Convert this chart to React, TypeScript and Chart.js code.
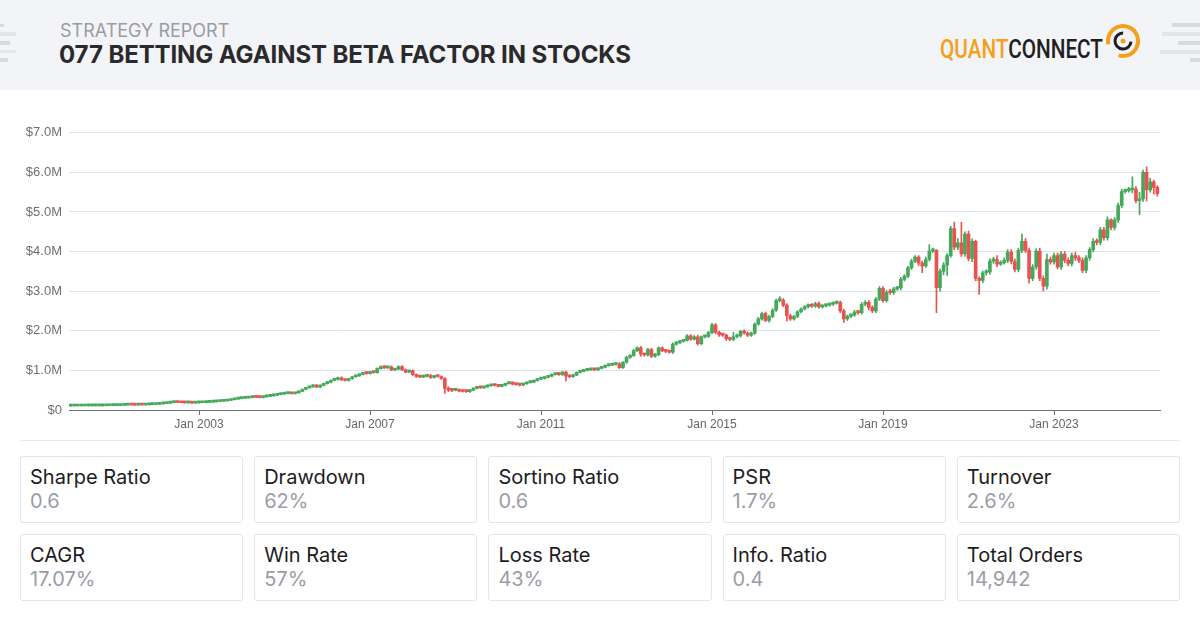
import React, { useEffect, useRef } from "react";
import { Chart, registerables } from "chart.js";

Chart.register(...registerables);

// Monthly equity candles, Jan 2000 .. Jun 2025, values in $K.
const firstOpenK = 99;

const closeK = [
  // 2000
  100, 101, 102, 102, 103, 104, 105, 105, 106, 107, 108, 109,
  // 2001
  111, 114, 118, 123, 129, 127, 125, 128, 126, 131, 135, 139,
  // 2002
  146, 154, 163, 173, 186, 196, 190, 184, 178, 181, 174, 178,
  // 2003
  182, 186, 192, 198, 206, 214, 220, 228, 240, 258, 274, 288,
  // 2004
  296, 304, 314, 325, 318, 312, 330, 345, 358, 372, 388, 402,
  // 2005
  415, 424, 410, 432, 470, 520, 560, 585, 630, 578, 620, 665,
  // 2006
  700, 748, 770, 815, 762, 745, 790, 840, 862, 900, 935, 918,
  // 2007
  955, 942, 1045, 1095, 1062, 1085, 1010, 1032, 1095, 1012, 955, 990,
  // 2008
  895, 845, 830, 850, 870, 820, 862, 845, 795, 545, 500, 495,
  // 2009
  508, 478, 468, 462, 500, 545, 572, 560, 585, 612, 632, 618,
  // 2010
  598, 622, 665, 690, 652, 640, 628, 662, 690, 705, 742, 778,
  // 2011
  795, 822, 852, 892, 918, 895, 955, 852, 840, 880, 950, 975,
  // 2012
  1000, 1012, 1025, 1015, 1052, 1080, 1120, 1135, 1150, 1165, 1068, 1205,
  // 2013
  1330, 1375, 1500, 1568, 1410, 1390, 1525, 1360, 1400, 1568, 1500, 1480,
  // 2014
  1460, 1665, 1700, 1735, 1760, 1875, 1790, 1850, 1675, 1845, 1860, 1955,
  // 2015
  2150, 1960, 1905, 1890, 1800, 1780, 1850, 1880, 1985, 1945, 1890, 1940,
  // 2016
  2170, 2300, 2435, 2260, 2360, 2520, 2760, 2775, 2650, 2380, 2300, 2360,
  // 2017
  2480, 2550, 2610, 2650, 2620, 2690, 2600, 2630, 2650, 2670, 2700, 2720,
  // 2018
  2500, 2300, 2370, 2400, 2470, 2460, 2670, 2720, 2590, 2500, 2800, 3075,
  // 2019
  2760, 2970, 2960, 3060, 3080, 3300, 3380, 3590, 3760, 3860, 3710, 3640,
  // 2020
  3800, 4010, 4030, 3090, 3500, 3660, 3900, 4580, 4110, 4220, 3940, 4440,
  // 2021
  3825, 4260, 3325, 3275, 3465, 3490, 3760, 3800, 3680, 3720, 3780, 3990,
  // 2022
  3750, 3550, 4030, 4260, 4030, 3325, 3610, 4010, 3325, 3130, 3800, 3740,
  // 2023
  3900, 3610, 3940, 3780, 3700, 3900, 3840, 3780, 3525, 3840, 4050, 4260,
  // 2024
  4230, 4550, 4350, 4800, 4610, 4800, 5165, 5515, 5540, 5560, 5580, 5285,
  // 2025
  5330, 6000, 5555, 5765, 5620, 5460,
];

// How far each month's high reaches above its body, $K.
const wickUpK = [
  1, 1, 1, 1, 1, 1, 1, 1, 1, 1, 1, 1,
  2, 2, 2, 3, 3, 2, 2, 3, 2, 3, 3, 3,
  4, 4, 5, 5, 5, 6, 5, 5, 4, 5, 6, 5,
  4, 5, 5, 5, 6, 6, 6, 7, 8, 8, 8, 8,
  8, 8, 8, 10, 12, 10, 8, 8, 10, 10, 10, 10,
  10, 12, 10, 10, 12, 12, 15, 15, 15, 20, 15, 15,
  15, 12, 15, 15, 20, 15, 15, 15, 15, 15, 15, 20,
  20, 20, 20, 20, 25, 20, 30, 20, 20, 25, 20, 15,
  25, 20, 15, 15, 15, 30, 15, 20, 20, 25, 40, 30,
  15, 15, 15, 15, 15, 15, 15, 15, 15, 15, 15, 15,
  15, 15, 15, 15, 20, 20, 25, 15, 15, 15, 15, 15,
  15, 15, 15, 20, 15, 20, 20, 30, 20, 20, 15, 15,
  15, 15, 15, 15, 20, 20, 20, 20, 20, 25, 30, 20,
  25, 25, 30, 30, 40, 25, 30, 35, 30, 25, 30, 25,
  25, 30, 25, 25, 25, 30, 30, 30, 40, 30, 25, 30,
  40, 35, 30, 25, 30, 30, 110, 40, 30, 40, 30, 30,
  30, 40, 40, 40, 30, 40, 40, 90, 40, 40, 40, 30,
  30, 30, 30, 30, 40, 30, 40, 30, 30, 30, 30, 30,
  30, 40, 30, 30, 50, 40, 40, 40, 40, 40, 40, 40,
  40, 50, 80, 40, 40, 50, 40, 40, 50, 40, 40, 50,
  60, 170, 60, 20, 60, 60, 50, 60, 165, 110, 520, 60,
  80, 60, 30, 40, 40, 50, 60, 60, 100, 50, 60, 60,
  60, 60, 60, 180, 70, 60, 60, 60, 70, 60, 140, 60,
  60, 60, 60, 60, 60, 60, 80, 60, 60, 60, 50, 60,
  60, 60, 60, 80, 30, 60, 60, 60, 40, 60, 310, 60,
  170, 60, 140, 85, 40, 50,
];

// How far each month's low reaches below its body, $K.
const wickDownK = [
  1, 1, 1, 1, 1, 1, 1, 1, 1, 1, 1, 1,
  2, 2, 2, 2, 2, 2, 2, 2, 2, 2, 2, 2,
  4, 4, 5, 5, 5, 6, 5, 5, 5, 5, 6, 5,
  5, 5, 5, 5, 5, 5, 5, 5, 5, 5, 5, 5,
  8, 8, 8, 8, 8, 8, 8, 8, 8, 8, 8, 8,
  10, 10, 10, 10, 10, 10, 10, 10, 10, 10, 10, 10,
  15, 15, 15, 15, 15, 15, 15, 15, 15, 15, 15, 15,
  15, 15, 15, 15, 15, 15, 15, 15, 15, 15, 15, 15,
  20, 20, 15, 15, 15, 20, 15, 15, 20, 125, 40, 30,
  15, 20, 15, 15, 15, 15, 15, 15, 15, 15, 15, 15,
  15, 15, 15, 15, 20, 15, 20, 15, 15, 15, 15, 15,
  15, 15, 15, 15, 15, 20, 20, 117, 30, 20, 15, 15,
  15, 15, 15, 15, 15, 15, 15, 15, 15, 15, 15, 15,
  25, 25, 25, 25, 50, 30, 30, 40, 30, 25, 30, 30,
  25, 30, 25, 25, 25, 25, 30, 25, 40, 30, 25, 30,
  30, 40, 45, 30, 40, 30, 30, 30, 40, 30, 40, 30,
  30, 30, 30, 30, 40, 30, 30, 30, 40, 130, 40, 30,
  30, 30, 30, 30, 30, 30, 30, 30, 30, 30, 30, 30,
  40, 90, 40, 40, 40, 40, 40, 40, 60, 40, 40, 40,
  40, 40, 40, 40, 40, 50, 40, 40, 40, 40, 60, 175,
  40, 40, 40, 630, 90, 80, 260, 50, 60, 60, 60, 60,
  60, 80, 60, 355, 60, 60, 60, 60, 60, 30, 40, 60,
  60, 60, 60, 60, 60, 125, 60, 60, 60, 125, 80, 60,
  60, 50, 60, 60, 60, 60, 60, 60, 60, 60, 60, 60,
  60, 60, 60, 60, 60, 60, 60, 60, 40, 40, 80, 55,
  355, 60, 275, 55, 170, 60,
];

// Month index (0 = Jan 2000) of each labelled x tick.
const tickMonths = [36, 84, 132, 180, 228, 276];
const tickLabels = ["Jan 2003", "Jan 2007", "Jan 2011", "Jan 2015", "Jan 2019", "Jan 2023"];

const metricLabels = [
  "Sharpe Ratio", "Drawdown", "Sortino Ratio", "PSR", "Turnover",
  "CAGR", "Win Rate", "Loss Rate", "Info. Ratio", "Total Orders",
];
const metricValues = [
  "0.6", "62%", "0.6", "1.7%", "2.6%",
  "17.07%", "57%", "43%", "0.4", "14,942",
];

const UP = "#45a85b";
const DOWN = "#e9524f";

function buildCandles() {
  const bodies: { x: number; y: [number, number] }[] = [];
  const wicks: { x: number; y: [number, number] }[] = [];
  const colors: string[] = [];
  let prev = firstOpenK;
  closeK.forEach((c, i) => {
    const o = prev;
    const hi = Math.max(o, c) + wickUpK[i];
    const lo = Math.min(o, c) - wickDownK[i];
    bodies.push({ x: i, y: [o * 1000, c * 1000] });
    wicks.push({ x: i, y: [lo * 1000, hi * 1000] });
    colors.push(c >= o ? UP : DOWN);
    prev = c;
  });
  return { bodies, wicks, colors };
}

const tickFamily = "'Liberation Sans', Arial, sans-serif";

function EquityChart() {
  const ref = useRef<HTMLCanvasElement | null>(null);
  useEffect(() => {
    if (!ref.current) return;
    const { bodies, wicks, colors } = buildCandles();
    const chart = new Chart(ref.current, {
      type: "bar",
      data: {
        datasets: [
          {
            data: wicks as any,
            backgroundColor: colors,
            borderWidth: 0,
            barThickness: 1,
            minBarLength: 1,
            grouped: false,
            order: 2,
          } as any,
          {
            data: bodies as any,
            backgroundColor: colors,
            borderWidth: 0,
            barThickness: 3,
            minBarLength: 2,
            grouped: false,
            order: 1,
          } as any,
        ],
      },
      options: {
        animation: false,
        responsive: false,
        layout: { padding: { top: 12, right: 10, left: 0, bottom: 0 } },
        plugins: { legend: { display: false }, tooltip: { enabled: false } },
        scales: {
          x: {
            type: "linear",
            min: -0.5,
            max: 305.75,
            offset: false,
            grid: {
              offset: false,
              drawOnChartArea: false,
              drawTicks: true,
              tickLength: 5,
              tickColor: "#6e6e76",
            },
            border: { color: "#6e6e76", width: 1 },
            afterBuildTicks: (scale: any) => {
              scale.ticks = tickMonths.map((v) => ({ value: v }));
            },
            afterFit: (scale: any) => {
              scale.height = 30;
            },
            ticks: {
              autoSkip: false,
              maxRotation: 0,
              padding: 2,
              color: "#666",
              font: { family: tickFamily, size: 12 },
              callback: (v: any) => tickLabels[tickMonths.indexOf(Number(v))] ?? "",
            },
          },
          y: {
            min: 0,
            max: 7000000,
            grid: { color: "#dfe3ed", drawTicks: false },
            border: { display: false },
            afterFit: (scale: any) => {
              scale.width = 49;
            },
            ticks: {
              stepSize: 1000000,
              padding: 7,
              color: "#707070",
              font: { family: tickFamily, size: 13 },
              callback: (v: any) => (Number(v) === 0 ? "$0" : "$" + (Number(v) / 1e6).toFixed(1) + "M"),
            },
          },
        },
      } as any,
    });
    return () => chart.destroy();
  }, []);
  return (
    <canvas
      ref={ref}
      width={1150}
      height={322}
      style={{ position: "absolute", left: 20, top: 118, width: 1150, height: 322 }}
    />
  );
}

function Logo() {
  return (
    <svg width={215} height={50} style={{ position: "absolute", left: 935, top: 17 }}>
      <text
        x={5}
        y={41}
        fontFamily="Roboto, 'DejaVu Sans', sans-serif"
        fontWeight={500}
        fontSize={26}
        textLength={163}
        lengthAdjust="spacingAndGlyphs"
      >
        <tspan fill="#f5a01a">QUANT</tspan>
        <tspan fill="#1f1f22">CONNECT</tspan>
      </text>
      <circle
        cx={188}
        cy={24}
        r={15}
        fill="none"
        stroke="#f5a01a"
        strokeWidth={4}
        strokeDasharray="78 16"
        transform="rotate(167 188 24)"
      />
      <circle
        cx={188}
        cy={24}
        r={8}
        fill="none"
        stroke="#1f1f22"
        strokeWidth={3}
        strokeDasharray="37 13"
        transform="rotate(4 188 24)"
      />
      <circle cx={188} cy={24} r={2.5} fill="#f5a01a" />
    </svg>
  );
}

const stripe = (left: number, top: number, width: number, height: number, color: string) => (
  <div style={{ position: "absolute", left, top, width, height, background: color }} />
);

export default function App() {
  return (
    <div
      style={{
        position: "absolute",
        left: 0,
        top: 0,
        width: 1200,
        height: 632,
        background: "#ffffff",
        overflow: "hidden",
        fontFamily: "Inter, 'Noto Sans', sans-serif",
      }}
    >
      <div style={{ position: "absolute", left: 0, top: 0, width: 1200, height: 90, background: "#f3f4f7" }} />
      {stripe(0, 24, 4, 3, "#d8dade")}
      {stripe(0, 32, 16, 4, "#e3e5e9")}
      {stripe(0, 41, 10, 4, "#d8dade")}
      {stripe(0, 50, 16, 3, "#e3e5e9")}
      {stripe(0, 58, 8, 4, "#d8dade")}
      {stripe(1172, 23, 28, 4, "#d8dade")}
      {stripe(1162, 32, 38, 4, "#e3e5e9")}
      {stripe(1178, 41, 22, 4, "#d8dade")}
      {stripe(1160, 50, 40, 4, "#e3e5e9")}
      {stripe(1190, 58, 10, 4, "#d8dade")}
      <div
        style={{
          position: "absolute",
          left: 60,
          top: 20,
          fontSize: 18,
          lineHeight: "22px",
          color: "#9a9ca4",
        }}
      >
        STRATEGY REPORT
      </div>
      <div
        style={{
          position: "absolute",
          left: 59,
          top: 41,
          fontSize: 24,
          lineHeight: "28px",
          fontWeight: 700,
          color: "#2a2a2c",
          letterSpacing: "-0.1px",
        }}
      >
        077 BETTING AGAINST BETA FACTOR IN STOCKS
      </div>
      <Logo />
      <EquityChart />
      <div style={{ position: "absolute", left: 20, top: 440, width: 1160, height: 1, background: "#e4e7ee" }} />
      <div
        style={{
          position: "absolute",
          left: 20,
          top: 456,
          width: 1160,
          display: "grid",
          gridTemplateColumns: "repeat(5, 1fr)",
          gridAutoRows: "67px",
          columnGap: 11,
          rowGap: 11,
        }}
      >
        {metricLabels.map((label, i) => (
          <div
            key={label}
            style={{
              border: "1px solid #e2e5ec",
              borderRadius: 3,
              boxSizing: "border-box",
              padding: "8px 9px",
              background: "#fff",
            }}
          >
            <div style={{ fontSize: 20, lineHeight: "24px", color: "#1c1c1e" }}>{label}</div>
            <div style={{ fontSize: 20, lineHeight: "24px", color: "#9b9da6" }}>{metricValues[i]}</div>
          </div>
        ))}
      </div>
    </div>
  );
}
